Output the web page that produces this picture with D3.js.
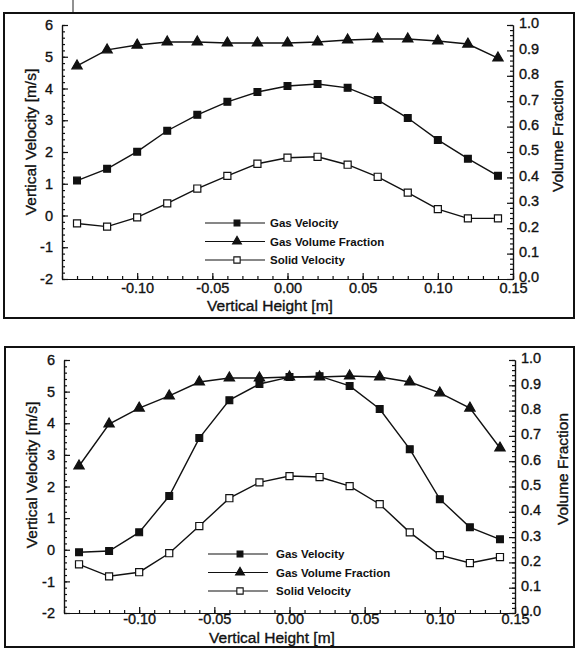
<!DOCTYPE html>
<html>
<head>
<meta charset="utf-8">
<script src="https://cdn.jsdelivr.net/npm/d3@7"></script>
<style>
	body { margin: 0; background: #fff; }
	svg { display: block; font-family: "Liberation Sans", Arial, Helvetica, sans-serif; }
	.axis text { font-size: 14.5px; fill: #111; stroke: #111; stroke-width: 0.35; }
	.axis path, .axis line { stroke: #111; stroke-width: 1.2; }
	.title { font-size: 15.5px; fill: #111; stroke: #111; stroke-width: 0.35; }
	.legend text { font-size: 11.5px; font-weight: bold; fill: #111; }
</style>
</head>
<body>
<div id="app"></div>
<script>

// vertical height of each sample [m]
var heights = [-0.14, -0.12, -0.10, -0.08, -0.06, -0.04, -0.02, 0.00, 0.02, 0.04, 0.06, 0.08, 0.10, 0.12, 0.14]

// upper plot
var gasVelocityTop = [1.10, 1.47, 2.01, 2.67, 3.17, 3.58, 3.89, 4.08, 4.14, 4.02, 3.64, 3.07, 2.38, 1.79, 1.25]
var gasFractionTop = [0.839, 0.902, 0.921, 0.933, 0.933, 0.929, 0.929, 0.929, 0.933, 0.941, 0.945, 0.945, 0.937, 0.925, 0.870]
var solidVelocityTop = [-0.25, -0.35, -0.06, 0.38, 0.85, 1.25, 1.63, 1.82, 1.85, 1.60, 1.22, 0.72, 0.20, -0.09, -0.09]

// lower plot
var gasVelocityBottom = [-0.08, -0.04, 0.55, 1.70, 3.53, 4.73, 5.24, 5.46, 5.49, 5.18, 4.45, 3.18, 1.60, 0.71, 0.33]
var gasFractionBottom = [0.581, 0.747, 0.810, 0.858, 0.913, 0.929, 0.929, 0.933, 0.933, 0.937, 0.933, 0.913, 0.870, 0.810, 0.652]
var solidVelocityBottom = [-0.46, -0.84, -0.71, -0.11, 0.75, 1.63, 2.13, 2.33, 2.30, 2.01, 1.44, 0.55, -0.17, -0.42, -0.23]

// ticks
var xMajor = [-0.10, -0.05, 0.00, 0.05, 0.10, 0.15]
var velocityTicks = [-2, -1, 0, 1, 2, 3, 4, 5, 6]
var fractionTicks = [0.0, 0.1, 0.2, 0.3, 0.4, 0.5, 0.6, 0.7, 0.8, 0.9, 1.0]

var legendLabels = ["Gas Velocity", "Gas Volume Fraction", "Solid Velocity"]

var xMinor = d3.range(-15, 16).map(d => d / 100)
var velocityMinor = d3.range(-10, 31).map(d => d / 5)
var fractionMinor = d3.range(0, 51).map(d => d / 50)

var panels = [
	{ left: 62, right: 513, top: 25, bottom: 279, frame: [4, 13, 574, 305],
	  legend: { x1: 205, x2: 265, y: 223, dy: 18.5, tx: 270 },
	  yTitle: [31, 142], rTitle: [558, 136], xTitle: [270, 311], tickY: 293,
	  gas: gasVelocityTop, frac: gasFractionTop, solid: solidVelocityTop },
	{ left: 64, right: 515, top: 360, bottom: 613, frame: [5, 347, 574, 300],
	  legend: { x1: 208, x2: 268, y: 554, dy: 18.5, tx: 276 },
	  yTitle: [32, 475], rTitle: [563, 469], xTitle: [272, 643], tickY: 624,
	  gas: gasVelocityBottom, frac: gasFractionBottom, solid: solidVelocityBottom }
]

var svg = d3.select("#app").append("svg")
	.attr("width", 575)
	.attr("height", 648)

// stray scan mark above the first frame
svg.append("line")
	.attr("x1", 73).attr("x2", 73)
	.attr("y1", 0).attr("y2", 13)
	.attr("stroke", "#222")
	.attr("stroke-width", 1)

var filledSquare = d3.symbol().type(d3.symbolSquare).size(46)
var openSquare = d3.symbol().type(d3.symbolSquare).size(50)
var triangle = d3.symbol().type(d3.symbolTriangle).size(46)

panels.forEach(function(p) {

	var x = d3.scaleLinear().domain([-0.15, 0.15]).range([p.left, p.right])
	var yL = d3.scaleLinear().domain([-2, 6]).range([p.bottom, p.top])
	var yR = d3.scaleLinear().domain([0, 1]).range([p.bottom, p.top])

	svg.append("rect")
		.attr("x", p.frame[0])
		.attr("y", p.frame[1])
		.attr("width", p.frame[2] - p.frame[0])
		.attr("height", p.frame[3])
		.attr("fill", "none")
		.attr("stroke", "#111")
		.attr("stroke-width", 2)

	// minor ticks first
	svg.append("g").attr("class", "axis")
		.attr("transform", `translate(0,${p.bottom})`)
		.call(d3.axisBottom(x).tickValues(xMinor).tickSize(-3).tickSizeOuter(0).tickFormat(""))

	svg.append("g").attr("class", "axis")
		.attr("transform", `translate(${p.left},0)`)
		.call(d3.axisLeft(yL).tickValues(velocityMinor).tickSize(-3).tickSizeOuter(0).tickFormat(""))

	svg.append("g").attr("class", "axis")
		.attr("transform", `translate(${p.right},0)`)
		.call(d3.axisRight(yR).tickValues(fractionMinor).tickSize(-3).tickSizeOuter(0).tickFormat(""))

	// major ticks with labels
	var xAxis = svg.append("g").attr("class", "axis")
		.attr("transform", `translate(0,${p.bottom})`)
		.call(d3.axisBottom(x).tickValues(xMajor).tickSize(-6).tickSizeOuter(0).tickPadding(0).tickFormat(d => d.toFixed(2)))

	xAxis.selectAll("text")
		.attr("y", p.tickY - p.bottom)
		.attr("dy", null)

	svg.append("g").attr("class", "axis")
		.attr("transform", `translate(${p.left},0)`)
		.call(d3.axisLeft(yL).tickValues(velocityTicks).tickSize(-6).tickSizeOuter(0).tickPadding(0).tickFormat(d => String(d)))
		.selectAll("text").attr("x", -9)

	svg.append("g").attr("class", "axis")
		.attr("transform", `translate(${p.right},0)`)
		.call(d3.axisRight(yR).tickValues(fractionTicks).tickSize(-6).tickSizeOuter(0).tickPadding(0).tickFormat(d => d.toFixed(1)))
		.selectAll("text").attr("x", 6).attr("dy", "0.2em")

	// titles
	svg.append("text").attr("class", "title")
		.attr("transform", `translate(${p.yTitle[0]},${p.yTitle[1]}) rotate(-90)`)
		.attr("text-anchor", "middle")
		.attr("dy", "0.35em")
		.text("Vertical Velocity [m/s]")

	svg.append("text").attr("class", "title")
		.attr("transform", `translate(${p.rTitle[0]},${p.rTitle[1]}) rotate(-90)`)
		.attr("text-anchor", "middle")
		.attr("dy", "0.35em")
		.text("Volume Fraction")

	svg.append("text").attr("class", "title")
		.attr("x", p.xTitle[0])
		.attr("y", p.xTitle[1])
		.attr("text-anchor", "middle")
		.text("Vertical Height [m]")

	// series
	var series = [
		{ values: p.frac, y: yR, sym: triangle, fill: "#111" },
		{ values: p.solid, y: yL, sym: openSquare, fill: "#fff" },
		{ values: p.gas, y: yL, sym: filledSquare, fill: "#111" }
	]

	series.forEach(function(s) {

		var pts = heights.map((h, i) => [x(h), s.y(s.values[i])])

		svg.append("path")
			.datum(pts)
			.attr("fill", "none")
			.attr("stroke", "#111")
			.attr("stroke-width", 1.4)
			.attr("d", d3.line())

		svg.append("g").selectAll("path")
			.data(pts)
			.enter()
			.append("path")
			.attr("transform", d => `translate(${d[0]},${d[1]})`)
			.attr("d", s.sym)
			.attr("fill", s.fill)
			.attr("stroke", "#111")
			.attr("stroke-width", 1.2)
	})

	// legend
	var legendSyms = [[filledSquare, "#111"], [triangle, "#111"], [openSquare, "#fff"]]

	var legend = svg.append("g").attr("class", "legend")

	legendLabels.forEach(function(label, i) {

		var ly = p.legend.y + i * p.legend.dy
		var mx = (p.legend.x1 + p.legend.x2) / 2 + 2

		legend.append("line")
			.attr("x1", p.legend.x1).attr("x2", p.legend.x2)
			.attr("y1", ly).attr("y2", ly)
			.attr("stroke", "#111")
			.attr("stroke-width", 1.2)

		legend.append("path")
			.attr("transform", `translate(${mx},${ly})`)
			.attr("d", legendSyms[i][0].size(i == 2 ? 40 : 34)())
			.attr("fill", legendSyms[i][1])
			.attr("stroke", "#111")
			.attr("stroke-width", 1.1)

		legend.append("text")
			.attr("x", p.legend.tx)
			.attr("y", ly)
			.attr("dy", "0.35em")
			.text(label)
	})

	// reset sizes used by the plotted marks
	filledSquare.size(46)
	openSquare.size(50)
	triangle.size(46)
})

</script>
</body>
</html>
